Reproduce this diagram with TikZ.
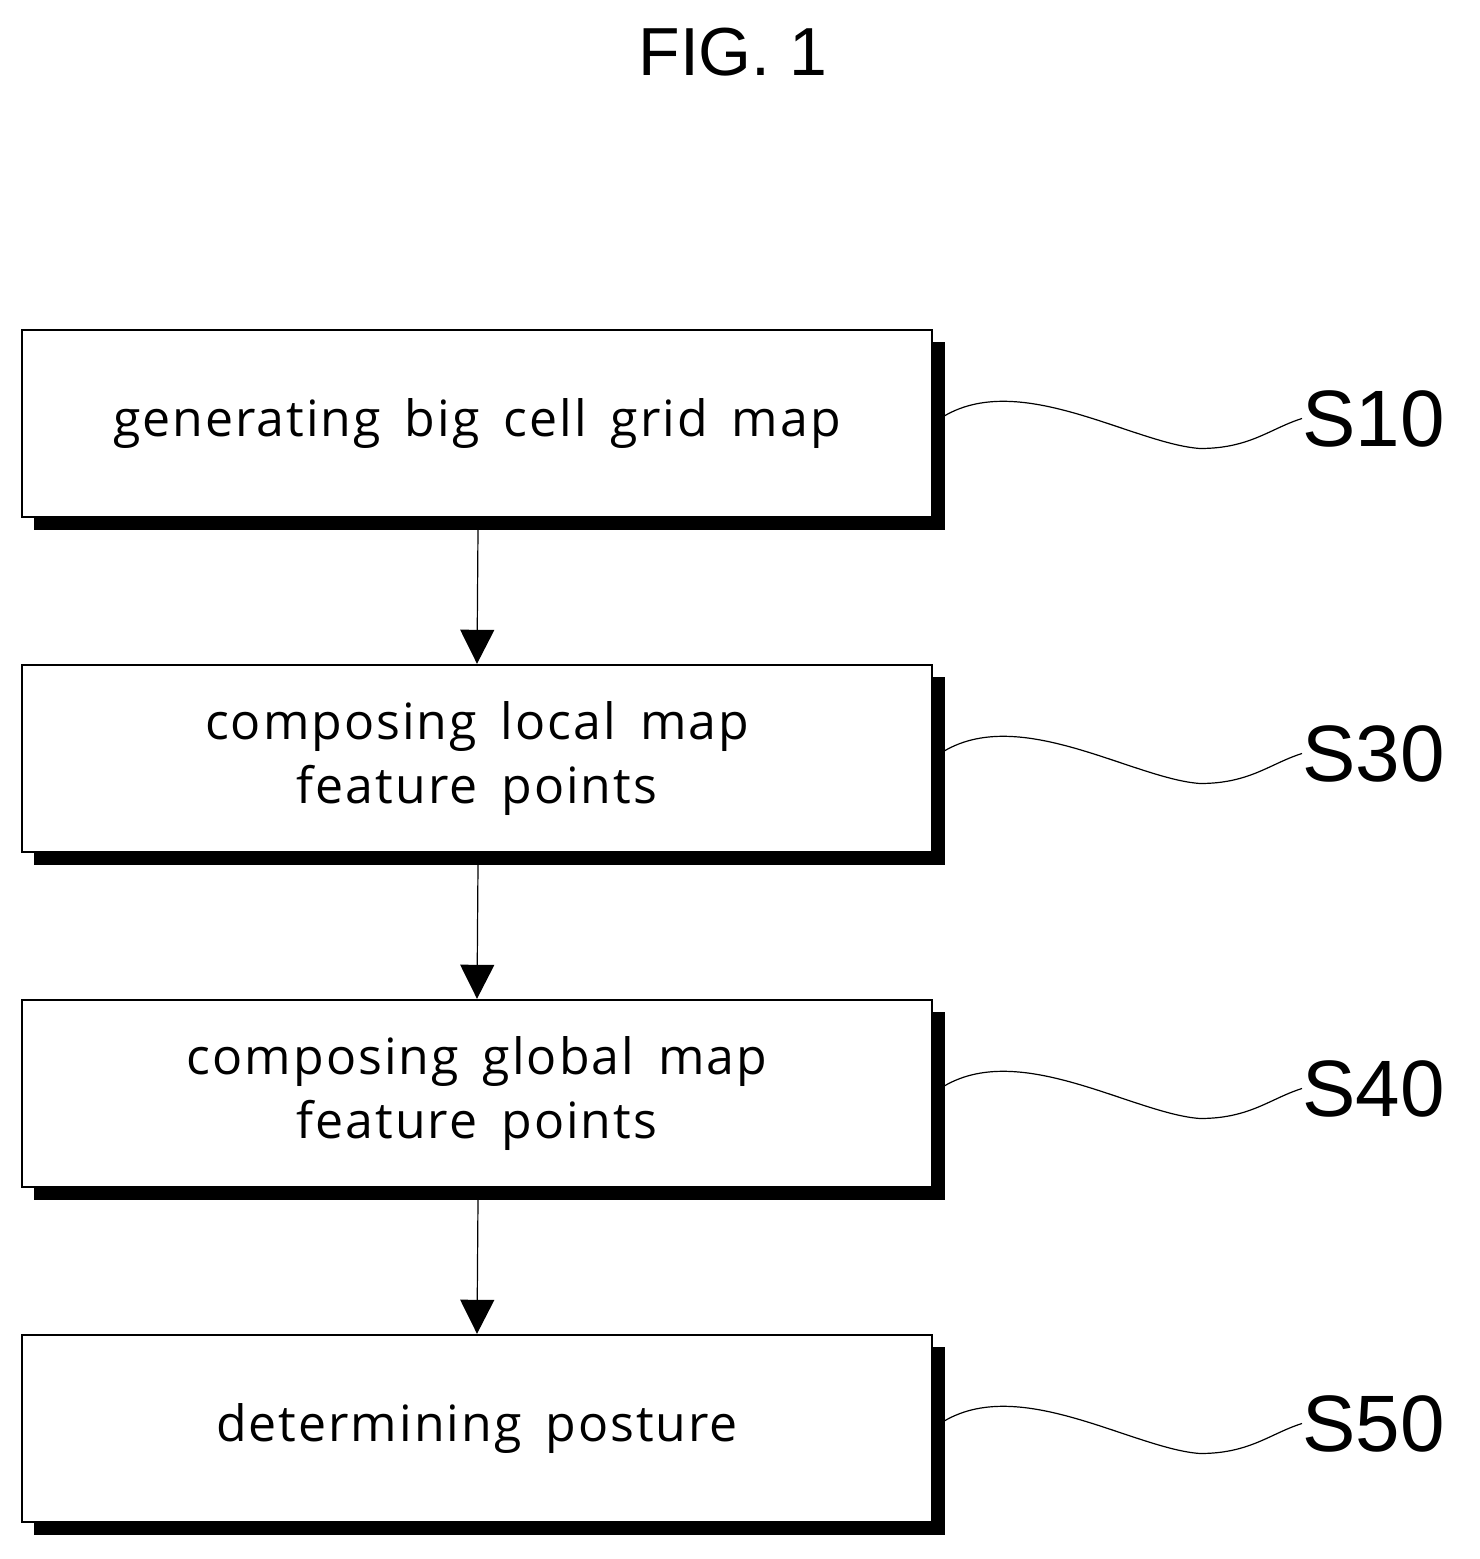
\documentclass[tikz,border=0pt]{standalone}
\usepackage{fontspec}
\setmainfont{Open Sans}
\newfontfamily\boxfont{Open Sans}[LetterSpace=4,WordSpace=1.6]
\newfontfamily\lab{Liberation Sans}
\usetikzlibrary{arrows.meta}
\begin{document}
\begin{tikzpicture}[x=0.5pt,y=-0.5pt,
  box/.style={draw=black,line width=1.2pt,fill=white,minimum width=455pt,minimum height=93.5pt,align=center,inner sep=0pt,
    font=\boxfont\fontsize{25}{32}\selectfont},
  arr/.style={line width=0.6pt,-{Triangle[length=17pt,width=17pt]}},
  wav/.style={line width=0.6pt},
  lbl/.style={font=\lab\fontsize{40}{40}\selectfont,anchor=west,inner sep=0pt}]
\useasboundingbox (0,0) rectangle (1479,1559);
\node[font=\lab\fontsize{34}{34}\selectfont] (fig) at (733,52) {FIG. 1};
\foreach \t/\n/\s [count=\i from 0] in {
  {generating big cell grid map}/a/S10,
  {composing local map\\feature points}/b/S30,
  {composing global map\\feature points}/c/S40,
  {determining posture}/d/S50}{
  \pgfmathsetmacro\yc{423.5+335*\i}
  \fill (34,\yc-81.5) rectangle (945,\yc+106.5);
  \node[box] (\n) at (477,\yc) {\t};
  \node[lbl] (l\n) at (1302,\yc-5) {\s};
  \draw[wav] (\n.east) .. controls (1010,\yc-60) and (1130,\yc+20) .. (1200,\yc+25) .. controls (1250,\yc+25) and (1270,\yc+5) .. (l\n.west);
}
\draw[arr] (478,530) -- (b.north);
\draw[arr] (478,865) -- (c.north);
\draw[arr] (478,1200) -- (d.north);
\end{tikzpicture}
\end{document}
